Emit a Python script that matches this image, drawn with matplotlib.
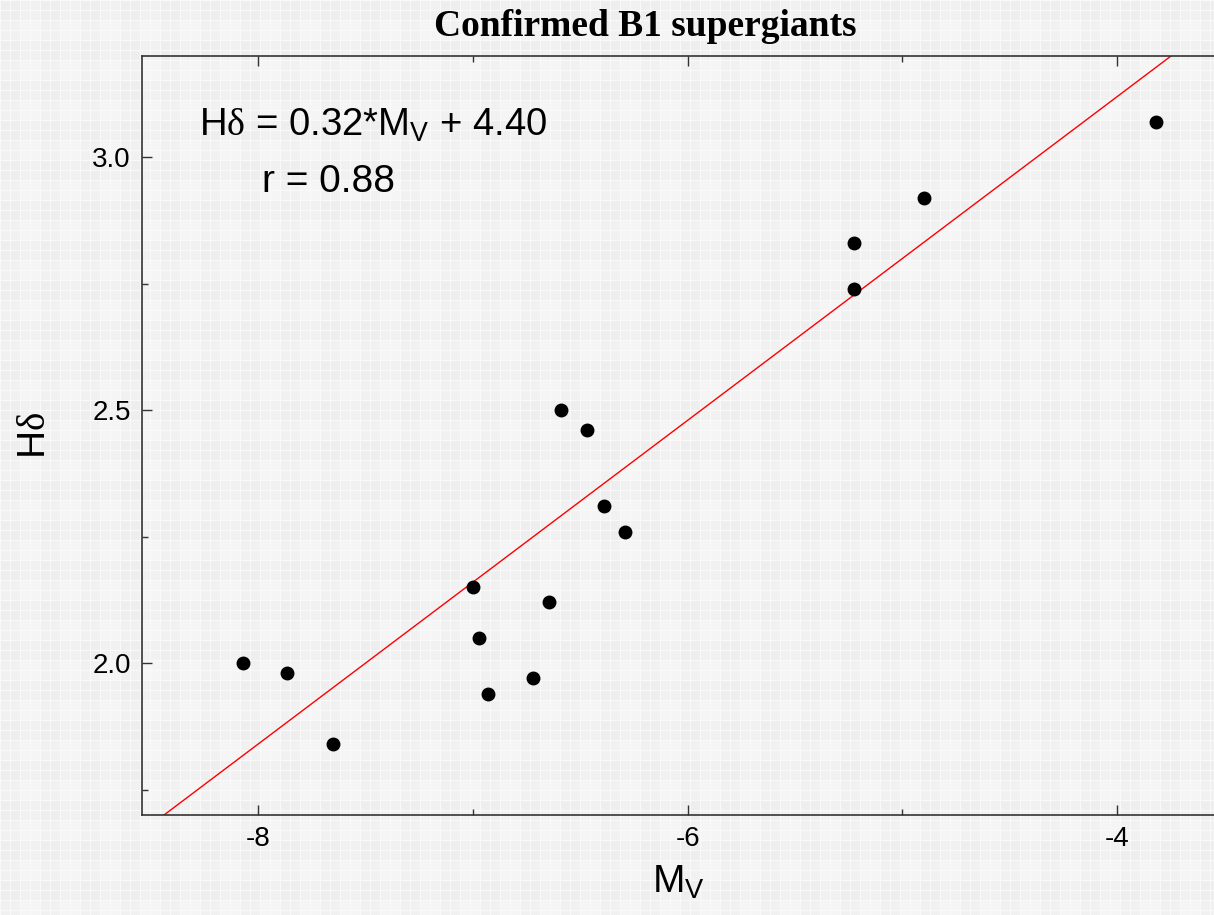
import numpy as np
import matplotlib.pyplot as plt
from matplotlib.ticker import MultipleLocator

# absolute magnitude and H-delta equivalent width for the B1 supergiants
mv = [-8.07, -7.865, -7.65, -7.00, -6.97, -6.93, -6.72, -6.645,
      -6.59, -6.47, -6.39, -6.29, -5.225, -5.225, -4.90, -3.82]
hd = [2.00, 1.98, 1.84, 2.15, 2.05, 1.94, 1.97, 2.12,
      2.50, 2.46, 2.31, 2.26, 2.83, 2.74, 2.92, 3.07]

# fitted relation
slope = 0.32
intercept = 4.40
r_coef = 0.88


def plaid(h, w):
    """light grey checked background"""
    yy, xx = np.mgrid[0:h, 0:w]
    img = np.full((h, w), 0.93)
    img += 0.014 * ((xx // 20) % 2) + 0.014 * ((yy // 20) % 2)
    img[:, ::10] = 0.975
    img[::10, :] = 0.975
    return img


plt.rcParams['font.family'] = ['Liberation Sans', 'DejaVu Sans']
plt.rcParams['mathtext.fontset'] = 'custom'
plt.rcParams['mathtext.rm'] = 'Liberation Sans'
plt.rcParams['mathtext.sf'] = 'Liberation Serif'
plt.rcParams['mathtext.default'] = 'regular'

fig = plt.figure(figsize=(12.14, 9.15), dpi=100)
fig.figimage(plaid(915, 1214), cmap='gray', vmin=0, vmax=1, zorder=-10)
fig.patch.set_alpha(0)

ax = fig.add_axes([142 / 1214, 1 - 815 / 915, 1 - 142 / 1214, (815 - 56) / 915])
ax.patch.set_alpha(0)

xfit = np.array([-8.49, -3.5])
ax.plot(xfit, slope * xfit + intercept, color='red', lw=1.0, zorder=2)
ax.plot(mv, hd, 'o', color='black', ms=9, zorder=3)

ax.set_xlim(-8.54, -3.55)
ax.set_ylim(1.70, 3.20)
ax.xaxis.set_major_locator(MultipleLocator(2))
ax.xaxis.set_minor_locator(MultipleLocator(1))
ax.yaxis.set_major_locator(MultipleLocator(0.5))
ax.yaxis.set_minor_locator(MultipleLocator(0.25))
ax.yaxis.set_major_formatter(lambda v, p: f'{v:.1f}')
ax.xaxis.set_major_formatter(lambda v, p: f'{v:.0f}')

ax.tick_params(which='both', direction='in', top=True, right=False,
               color='#333333', labelsize=20, pad=8)
ax.tick_params(which='major', length=7, width=1)
ax.tick_params(which='minor', length=4, width=1)
for side in ['left', 'top', 'bottom']:
    ax.spines[side].set_color('#333333')
    ax.spines[side].set_linewidth(1.2)
ax.spines['right'].set_visible(False)

ax.set_xlabel('M$_V$', fontsize=28, labelpad=8)
ax.set_ylabel(r'H$\mathsf{\delta}$', fontsize=28, labelpad=28)
fig.text(645 / 1214, 1 - 36 / 915, 'Confirmed B1 supergiants', fontsize=27,
         fontweight='bold', family=['Liberation Serif'], ha='center', va='baseline')

ax.text(-8.275, 3.063, r'H$\mathsf{\delta}$ = 0.32*M$_V$ + 4.40', fontsize=27.5,
        va='center', ha='left')
ax.text(-7.98, 2.95, f'r = {r_coef:.2f}', fontsize=28, va='center', ha='left')

fig.savefig('out.png', dpi=100)
